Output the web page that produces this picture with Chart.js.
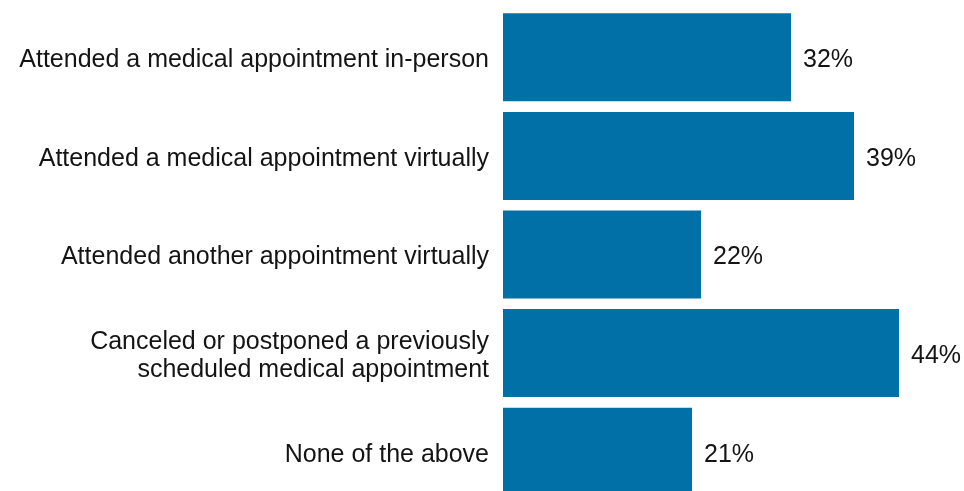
<!DOCTYPE html>
<html>
<head>
<meta charset="utf-8">
<script src="https://cdn.jsdelivr.net/npm/chart.js@4"></script>
<style>
  html, body { margin: 0; padding: 0; background: #fff; overflow: hidden; }
</style>
</head>
<body>
<canvas id="chart" width="964" height="501"></canvas>
<script>
// survey answers, one bar each
const categories = [
  'Attended a medical appointment in-person',
  'Attended a medical appointment virtually',
  'Attended another appointment virtually',
  ['Canceled or postponed a previously', 'scheduled medical appointment'],
  'None of the above'
];
const shares = [32, 39, 22, 44, 21];
const barColor = '#0070a7';
const textColor = '#141414';
const fontFamily = '"Liberation Sans", Arial, sans-serif';

// writes the percent to the right of each bar
const valueLabels = {
  id: 'valueLabels',
  afterDatasetsDraw(chart) {
    const ctx = chart.ctx;
    const meta = chart.getDatasetMeta(0);
    ctx.save();
    ctx.font = '25px ' + fontFamily;
    ctx.fillStyle = textColor;
    ctx.textAlign = 'left';
    ctx.textBaseline = 'middle';
    meta.data.forEach((bar, i) => {
      ctx.fillText(shares[i] + '%', bar.x + 12, bar.y + 3);
    });
    ctx.restore();
  }
};

const config = {
  type: 'bar',
  data: {
    labels: categories,
    datasets: [{
      data: shares,
      backgroundColor: barColor,
      borderWidth: 0,
      categoryPercentage: 1,
      barPercentage: 0.893
    }]
  },
  options: {
    indexAxis: 'y',
    responsive: false,
    animation: false,
    layout: { padding: { top: 8, right: 11, bottom: 0, left: 0 } },
    plugins: {
      legend: { display: false },
      tooltip: { enabled: false }
    },
    scales: {
      x: {
        display: false,
        min: 0,
        max: 50
      },
      y: {
        grid: { display: false },
        border: { display: false },
        afterFit(scale) {
          scale.width = 503;
          scale.paddingTop = 0;
          scale.paddingBottom = 0;
        },
        ticks: {
          color: textColor,
          padding: 6,
          labelOffset: 3,
          font: { family: fontFamily, size: 25, lineHeight: 1.1 }
        }
      }
    }
  },
  plugins: [valueLabels]
};

new Chart(document.getElementById('chart'), config);
</script>
</body>
</html>
